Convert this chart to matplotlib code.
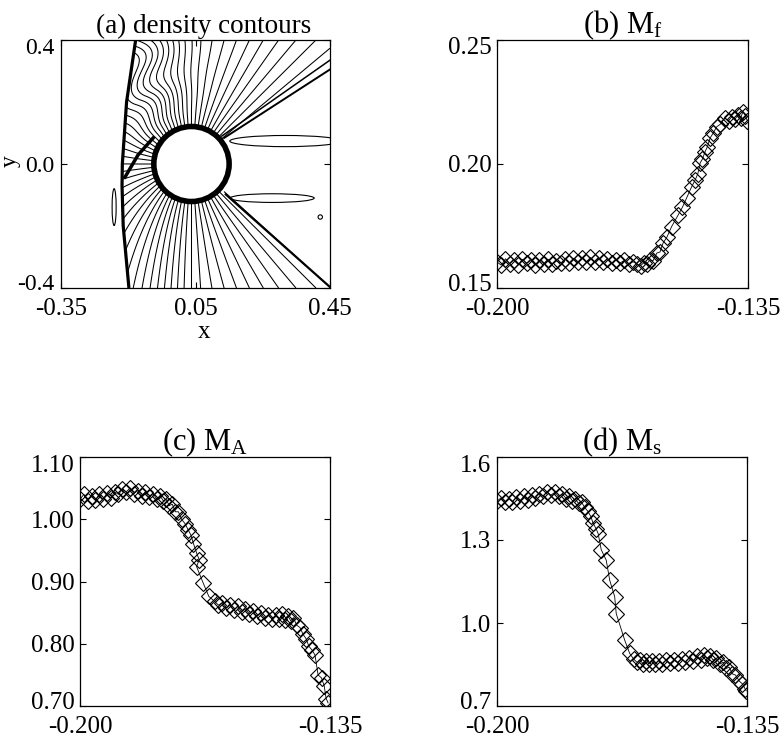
import numpy as np
import matplotlib
matplotlib.use("Agg")
import matplotlib.pyplot as plt
from matplotlib.patches import Ellipse
from matplotlib.transforms import ScaledTranslation

plt.rcParams['font.family'] = ['Liberation Serif', 'DejaVu Serif']
plt.rcParams['mathtext.fontset'] = 'custom'
plt.rcParams['mathtext.rm'] = 'Liberation Serif'
plt.rcParams['mathtext.it'] = 'Liberation Serif:italic'
plt.rcParams['font.size'] = 18

# ---------------- panel (a) structural data ----------------
circle_center = (0.038, 0.0)
circle_radius = (0.112, 0.121)
shock_y = [-0.40, -0.20, -0.07, 0.00, 0.20, 0.40]
shock_x = [-0.148, -0.165, -0.1685, -0.1676, -0.155, -0.128]
upper_slow1_x = [0.128, 0.45]
upper_slow1_y = [0.090, 0.335]
upper_slow2_x = [0.135, 0.45]
upper_slow2_y = [0.084, 0.305]
lower_slow_x = [0.140, 0.45]
lower_slow_y = [-0.098, -0.397]
lower_slow2_x = [0.136, 0.376]
lower_slow2_y = [-0.090, -0.326]
front_band_x = [-0.076, -0.121, -0.1595]
front_band_y = [0.084, 0.029, -0.042]
lobes = [  # center x, center y, width, height
    (0.317, 0.074, 0.33, 0.036),
    (0.278, -0.110, 0.25, 0.028),
]
blob_left = (-0.192, -0.139, 0.012, 0.119)
blob_right = (0.421, -0.171, 0.013, 0.014)
wedge_angles = (36.0, 319.0)
contour_levels = np.arange(40.0, 318.0, 5.0)

# ---------------- panels (b)-(d) series ----------------
mf_x = [-0.2000, -0.1989, -0.1978, -0.1967, -0.1956, -0.1945, -0.1934, -0.1923, -0.1912, -0.1901,
        -0.1890, -0.1879, -0.1868, -0.1857, -0.1846, -0.1835, -0.1824, -0.1813, -0.1802, -0.1791,
        -0.1780, -0.1769, -0.1758, -0.1747, -0.1736, -0.1725, -0.1714, -0.1703, -0.1692, -0.1681,
        -0.1670, -0.1659, -0.1648, -0.1637, -0.1628, -0.1620, -0.1612, -0.1604, -0.1596, -0.1586,
        -0.1578, -0.1570, -0.1560, -0.1548, -0.1531, -0.1520, -0.1509, -0.1496, -0.1487, -0.1480,
        -0.1474, -0.1468, -0.1461, -0.1455, -0.1448, -0.1440, -0.1431, -0.1422, -0.1410, -0.1400,
        -0.1392, -0.1384, -0.1376, -0.1369, -0.1363, -0.1357, -0.1352]
mf_y = [0.1605, 0.1592, 0.1618, 0.1598, 0.1612, 0.1594, 0.1615, 0.1600, 0.1611, 0.1593,
        0.1612, 0.1598, 0.1616, 0.1597, 0.1610, 0.1600, 0.1617, 0.1602, 0.1620, 0.1603,
        0.1622, 0.1605, 0.1623, 0.1604, 0.1621, 0.1603, 0.1618, 0.1600, 0.1614, 0.1601,
        0.1612, 0.1598, 0.1606, 0.1596, 0.1590, 0.1602, 0.1598, 0.1613, 0.1610, 0.1641,
        0.1645, 0.1681, 0.1705, 0.1747, 0.1794, 0.1825, 0.1863, 0.1908, 0.1935, 0.1960,
        0.2004, 0.2020, 0.2050, 0.2070, 0.2105, 0.2125, 0.2150, 0.2160, 0.2185, 0.2175,
        0.2191, 0.2180, 0.2198, 0.2185, 0.2211, 0.2195, 0.2175]

ma_x = [-0.2000, -0.1990, -0.1980, -0.1970, -0.1960, -0.1950, -0.1940, -0.1930, -0.1920, -0.1910,
        -0.1900, -0.1890, -0.1880, -0.1870, -0.1860, -0.1850, -0.1840, -0.1830, -0.1820, -0.1810,
        -0.1800, -0.1792, -0.1784, -0.1776, -0.1768, -0.1760, -0.1752, -0.1744, -0.1736, -0.1727,
        -0.1718, -0.1712, -0.1705, -0.1697, -0.1690, -0.1697, -0.1680, -0.1665, -0.1650, -0.1640,
        -0.1630, -0.1620, -0.1610, -0.1600, -0.1590, -0.1580, -0.1570, -0.1560, -0.1550, -0.1540,
        -0.1530, -0.1520, -0.1510, -0.1500, -0.1490, -0.1482, -0.1475, -0.1468, -0.1460, -0.1452,
        -0.1445, -0.1437, -0.1428, -0.1420, -0.1412, -0.1405, -0.1397, -0.1389, -0.1381, -0.1372,
        -0.1365, -0.1360, -0.1355]
ma_y = [1.032, 1.040, 1.030, 1.038, 1.031, 1.040, 1.032, 1.042, 1.034, 1.044,
        1.040, 1.048, 1.044, 1.050, 1.041, 1.046, 1.038, 1.044, 1.035, 1.041,
        1.032, 1.038, 1.030, 1.032, 1.022, 1.024, 1.012, 1.012, 1.000, 0.993,
        0.982, 0.975, 0.961, 0.946, 0.935, 0.924, 0.898, 0.876, 0.868, 0.862,
        0.866, 0.857, 0.862, 0.854, 0.860, 0.851, 0.856, 0.848, 0.852, 0.844,
        0.849, 0.841, 0.846, 0.840, 0.846, 0.840, 0.847, 0.838, 0.845, 0.837,
        0.842, 0.830, 0.826, 0.815, 0.808, 0.796, 0.790, 0.782, 0.750, 0.745,
        0.732, 0.712, 0.705]

ms_x = [-0.2000, -0.1990, -0.1980, -0.1970, -0.1960, -0.1950, -0.1940, -0.1930, -0.1920, -0.1910,
        -0.1900, -0.1890, -0.1880, -0.1870, -0.1860, -0.1850, -0.1840, -0.1830, -0.1820, -0.1812,
        -0.1804, -0.1796, -0.1788, -0.1780, -0.1772, -0.1764, -0.1756, -0.1750, -0.1742, -0.1737,
        -0.1729, -0.1716, -0.1707, -0.1694, -0.1690, -0.1668, -0.1655, -0.1645, -0.1636, -0.1628,
        -0.1620, -0.1612, -0.1604, -0.1596, -0.1588, -0.1580, -0.1570, -0.1560, -0.1550, -0.1540,
        -0.1530, -0.1520, -0.1510, -0.1500, -0.1490, -0.1480, -0.1470, -0.1462, -0.1454, -0.1446,
        -0.1438, -0.1430, -0.1420, -0.1412, -0.1404, -0.1396, -0.1388, -0.1380, -0.1370, -0.1362,
        -0.1355, -0.1352]
ms_y = [1.440, 1.452, 1.436, 1.450, 1.438, 1.455, 1.442, 1.458, 1.446, 1.462,
        1.452, 1.468, 1.458, 1.474, 1.462, 1.472, 1.458, 1.466, 1.450, 1.458,
        1.442, 1.448, 1.432, 1.436, 1.418, 1.404, 1.385, 1.360, 1.340, 1.323,
        1.265, 1.227, 1.155, 1.095, 1.034, 0.938, 0.890, 0.870, 0.858, 0.866,
        0.852, 0.864, 0.852, 0.864, 0.852, 0.864, 0.852, 0.866, 0.854, 0.866,
        0.856, 0.870, 0.858, 0.874, 0.862, 0.880, 0.868, 0.884, 0.872, 0.882,
        0.866, 0.872, 0.852, 0.858, 0.836, 0.840, 0.816, 0.812, 0.790, 0.780,
        0.762, 0.755]

fig = plt.figure(figsize=(7.83, 7.44), dpi=100)
ax_a = fig.add_axes([61/783, 1-288/744, 269/783, 248/744])
ax_b = fig.add_axes([497/783, 1-288/744, 251/783, 248/744])
ax_c = fig.add_axes([80/783, 1-706/744, 250/783, 249/744])
ax_d = fig.add_axes([497/783, 1-706/744, 250/783, 249/744])

def style(ax, ypad=4, ysize=18):
    ax.tick_params(direction='in', length=4, width=0.8, top=True, right=True,
                   labelsize=18)
    ax.tick_params(axis='x', pad=7)
    ax.tick_params(axis='y', pad=ypad, labelsize=ysize)
    for s in ax.spines.values():
        s.set_linewidth(0.9)

def shift_end_labels(ax):
    labels = ax.get_yticklabels()
    down = ScaledTranslation(0, -0.06, fig.dpi_scale_trans)
    up = ScaledTranslation(0, 0.055, fig.dpi_scale_trans)
    labels[-1].set_transform(labels[-1].get_transform() + down)
    labels[0].set_transform(labels[0].get_transform() + up)

# ---------------- (a) ----------------
xg = np.linspace(-0.35, 0.45, 540)
yg = np.linspace(-0.4, 0.4, 500)
X, Y = np.meshgrid(xg, yg)
U = (X - circle_center[0]) / circle_radius[0]
V = (Y - circle_center[1]) / circle_radius[1]
R = np.hypot(U, V)
wleft = 1.0 / (1.0 + np.exp(4.0 * U))
H = 1.0 + 0.30 * np.clip(R - 1.0, 0, None) * wleft
TH = np.degrees(np.arctan2(V, U * H)) % 360.0
wob = 6.0 * np.sin(4.5 * R) * np.exp(-((TH - 130.0) / 25.0) ** 2) * np.clip(R - 1.2, 0, 1)
F = TH + wob
sx = np.interp(Y, shock_y, shock_x)
mask = (R < 1.0) | (X < sx) | (TH < wedge_angles[0]) | (TH > wedge_angles[1])
Fm = np.ma.array(F, mask=mask)
ax_a.contour(X, Y, Fm, levels=contour_levels, colors='black', linewidths=0.75)

ax_a.plot(shock_x, shock_y, color='black', lw=2.3, solid_capstyle='butt')
ax_a.plot(upper_slow1_x, upper_slow1_y, color='black', lw=1.1)
ax_a.plot(upper_slow2_x, upper_slow2_y, color='black', lw=1.4)
ax_a.plot(lower_slow_x, lower_slow_y, color='black', lw=1.6)
ax_a.plot(lower_slow2_x, lower_slow2_y, color='black', lw=0.8)
ax_a.plot(front_band_x, front_band_y, color='black', lw=2.5)
for cx, cy, w, h in lobes:
    ax_a.add_patch(Ellipse((cx, cy), w, h, fill=False, ec='black', lw=0.8))
for cx, cy, w, h in (blob_left, blob_right):
    ax_a.add_patch(Ellipse((cx, cy), w, h, fill=False, ec='black', lw=0.8))
ax_a.add_patch(Ellipse(circle_center, 2 * circle_radius[0], 2 * circle_radius[1],
                       fc='white', ec='black', lw=4, zorder=5))
ax_a.set_xlim(-0.35, 0.45)
ax_a.set_ylim(-0.4, 0.4)
ax_a.set_xticks([-0.35, 0.05, 0.45])
ax_a.set_xticklabels(['-0.35', '0.05', '0.45'])
ax_a.set_yticks([-0.4, 0.0, 0.4])
ax_a.set_yticklabels(['-0.4', '0.0', '0.4'])
style(ax_a, ypad=5, ysize=17)
ax_a.set_xlabel('x', fontsize=18)
ax_a.xaxis.set_label_coords(0.53, -0.135)
ax_a.set_ylabel('y', fontsize=17)
ax_a.yaxis.set_label_coords(-0.15, 0.51)
ax_a.set_title('(a) density contours', fontsize=19.5, x=0.53, pad=5)
shift_end_labels(ax_a)

# ---------------- (b)-(d) ----------------
def series(ax, xs, ys, ylim, yticks, ylabels, title):
    ax.plot(xs, ys, color='black', lw=0.6, marker='D', ms=8,
            mfc='none', mec='black', mew=0.8)
    ax.set_xlim(-0.200, -0.135)
    ax.set_ylim(*ylim)
    ax.set_xticks([-0.200, -0.135])
    ax.set_xticklabels(['-0.200', '-0.135'])
    ax.set_yticks(yticks)
    ax.set_yticklabels(ylabels)
    style(ax)
    ax.set_title(title, fontsize=22, pad=5)
    shift_end_labels(ax)

series(ax_b, mf_x, mf_y, (0.15, 0.25), [0.15, 0.20, 0.25], ['0.15', '0.20', '0.25'],
       r'(b) M$_\mathrm{f}$')
series(ax_c, ma_x, ma_y, (0.70, 1.10), [0.70, 0.80, 0.90, 1.00, 1.10],
       ['0.70', '0.80', '0.90', '1.00', '1.10'], r'(c) M$_\mathrm{A}$')
series(ax_d, ms_x, ms_y, (0.7, 1.6), [0.7, 1.0, 1.3, 1.6], ['0.7', '1.0', '1.3', '1.6'],
       r'(d) M$_\mathrm{s}$')

fig.savefig('out.png', dpi=100)
